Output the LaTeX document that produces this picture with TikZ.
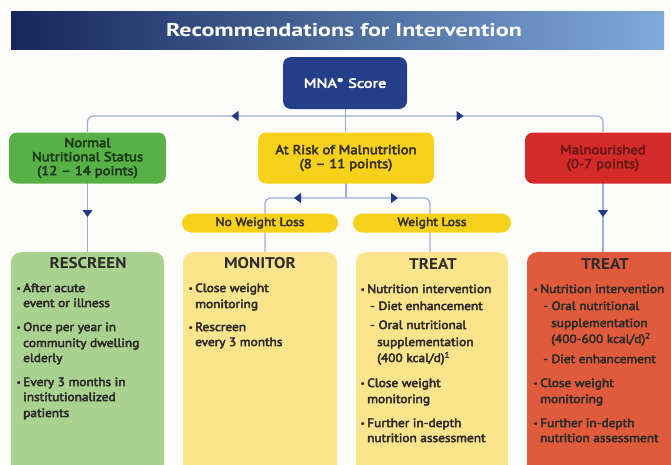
\documentclass[tikz,border=0pt]{standalone}
\usepackage{fontspec}
\usepackage{graphicx}
\setmainfont{PT Sans}
% semibold-looking, slightly wide faces for the box texts
\newfontfamily\semi{PT Sans}[FakeBold=4, FakeStretch=1.11]
\newfontfamily\semiwide{PT Sans}[FakeBold=4, FakeStretch=1.13]
\newfontfamily\mnaface{PT Sans}[FakeBold=4, FakeStretch=1.25]
\newfontfamily\headface{PT Sans Bold}[FakeStretch=1.1]
\newfontfamily\titleface{PT Sans Bold}[FakeStretch=1.3]
\usetikzlibrary{arrows.meta,decorations.markings}

\definecolor{paper}{HTML}{FCFCFA}
\definecolor{hdrL}{HTML}{16275C}
\definecolor{hdrR}{HTML}{7FAADA}
\definecolor{navy}{HTML}{243E8A}
\definecolor{linkc}{HTML}{9DABD8}
\definecolor{tipc}{HTML}{1F3A88}
\definecolor{grn}{HTML}{58B146}
\definecolor{grntxt}{HTML}{1E3A1C}
\definecolor{ylw}{HTML}{F8D21A}
\definecolor{ylwtxt}{HTML}{3A3320}
\definecolor{rd}{HTML}{D42A2A}
\definecolor{rdtxt}{HTML}{6A1816}
\definecolor{grnlt}{HTML}{A9D18F}
\definecolor{ylwlt}{HTML}{FBE48C}
\definecolor{rdlt}{HTML}{E05B3B}
\definecolor{bodytxt}{HTML}{2E2B28}

% small bullet hanging left of the text start
\newcommand\bul{\llap{\raisebox{0.8pt}{\scalebox{0.7}{•}}\hspace{2.4pt}}}

\tikzset{
  link/.style={draw=linkc, line width=1.2pt, rounded corners=6pt},
  tipat/.style={postaction={decorate, decoration={markings,
      mark=at position #1 with {\arrow[tipc]{Triangle[length=7pt,width=10pt]}}}}},
  topbox/.style={rounded corners=8pt, minimum height=51pt, inner sep=0pt,
      align=center, font=\semiwide\fontsize{13}{14}\selectfont},
  pill/.style={fill=ylw, rounded corners=9.5pt, minimum height=19pt, inner sep=0pt,
      text=ylwtxt, font=\semiwide\fontsize{12}{13}\selectfont},
  card/.style={rounded corners=10pt, minimum height=230pt, inner sep=0pt, anchor=north},
  head/.style={font=\headface\fontsize{15.5}{17}\selectfont, anchor=base, inner sep=0pt, text=bodytxt},
  ln/.style={font=\semi\fontsize{12}{15}\selectfont, anchor=base west, inner sep=0pt, text=bodytxt},
}

\begin{document}
\begin{tikzpicture}[x=1pt,y=-1pt]
\useasboundingbox (0,0) rectangle (671,464);
\clip (0,0) rectangle (671,464);
\fill[paper] (0,0) rectangle (671,464);

% title banner
\shade[left color=hdrL, right color=hdrR] (11,11) rectangle (664,49);
\node[text=white, font=\titleface\fontsize{18.5}{20}\selectfont] (title) at (344,30)
  {Recommendations for Intervention};

% junction points and free ends of the connectors
\coordinate (hub) at (345.5,116);
\coordinate (subhub) at (346,198);
\coordinate (nwl-in) at (265,252);
\coordinate (wl-in) at (430,252);

% connectors, drawn first so the boxes sit on top of them
\draw[link] (345.5,109) -- (345.5,132);
\draw[link, tipat=114pt] (hub) -| (87.5,132);
\draw[link, tipat=118pt] (hub) -| (603,132);
\draw[link, tipat=34pt] (87.5,183) -- (87.5,252);
\draw[link, tipat=34pt] (603,183) -- (603,252);
\draw[link] (346,183) -- (subhub);
\draw[link, tipat=52pt] (subhub) -| (nwl-in);
\draw[link, tipat=52pt] (subhub) -| (wl-in);

% top level boxes
\node[topbox, fill=navy, text=white, minimum width=124pt, minimum height=52pt,
      font=\mnaface\fontsize{13}{14}\selectfont] (mna) at (345,83)
  {MNA\textsuperscript{\scalebox{0.8}{®}} Score};
\node[topbox, fill=grn, text=grntxt, minimum width=157pt] (normal) at (87.5,158)
  {Normal\\Nutritional Status\\(12 – 14 points)};
\node[topbox, fill=ylw, text=ylwtxt, minimum width=176pt] (risk) at (346,158)
  {At Risk of Malnutrition\\(8 – 11 points)};
\node[topbox, fill=rd, text=rdtxt, minimum width=156pt] (mal) at (603,158)
  {Malnourished\\(0-7 points)};

% weight-loss branches
\node[pill, minimum width=156pt] (nwl) at (260,223) {No Weight Loss};
\node[pill, minimum width=158pt] (wl) at (432,223) {Weight Loss};

% action cards
\node[card, fill=grnlt, minimum width=153pt] (rescreen) at (87.5,252) {};
\node[card, fill=ylwlt, minimum width=154pt] (monitor) at (260,252) {};
\node[card, fill=ylwlt, minimum width=152pt] (treat1) at (432,252) {};
\node[card, fill=rdlt, minimum width=156pt] (treat2) at (605,252) {};

\node[head] (rescreen-h) at (88,268.5) {RESCREEN};
\node[head] (monitor-h) at (260,268.5) {MONITOR};
\node[head] (treat1-h) at (433,269) {TREAT};
\node[head] (treat2-h) at (605,269) {TREAT};

% card texts: x / baseline / line
\foreach \xx/\yy/\txt [count=\k] in {
    23/292/{\bul After acute},
    23/307/{event or illness},
    23/331/{\bul Once per year in},
    23/347/{community dwelling},
    23/362/{elderly},
    23/386/{\bul Every 3 months in},
    23/401/{institutionalized},
    23/417/{patients}}
  \node[ln] (rescreen-\k) at (\xx,\yy) {\txt};

\foreach \xx/\yy/\txt [count=\k] in {
    195/292/{\bul Close weight},
    195/308/{monitoring},
    195/331/{\bul Rescreen},
    195/346/{every 3 months}}
  \node[ln] (monitor-\k) at (\xx,\yy) {\txt};

\foreach \xx/\yy/\txt [count=\k] in {
    367/293/{\bul Nutrition intervention},
    370/310/{- Diet enhancement},
    370/329/{- Oral nutritional},
    377/346/{supplementation},
    377/362/{(400 kcal/d)\textsuperscript{1}},
    367/387/{\bul Close weight},
    367/403/{monitoring},
    367/427/{\bul Further in-depth},
    367/442/{nutrition assessment}}
  \node[ln] (treat1-\k) at (\xx,\yy) {\txt};

\foreach \xx/\yy/\txt [count=\k] in {
    540/293/{\bul Nutrition intervention},
    543/310/{- Oral nutritional},
    551/327/{supplementation},
    551/343/{(400-600 kcal/d)\textsuperscript{2}},
    543/363/{- Diet enhancement},
    540/387/{\bul Close weight},
    540/403/{monitoring},
    540/427/{\bul Further in-depth},
    540/442/{nutrition assessment}}
  \node[ln] (treat2-\k) at (\xx,\yy) {\txt};
\end{tikzpicture}
\end{document}
